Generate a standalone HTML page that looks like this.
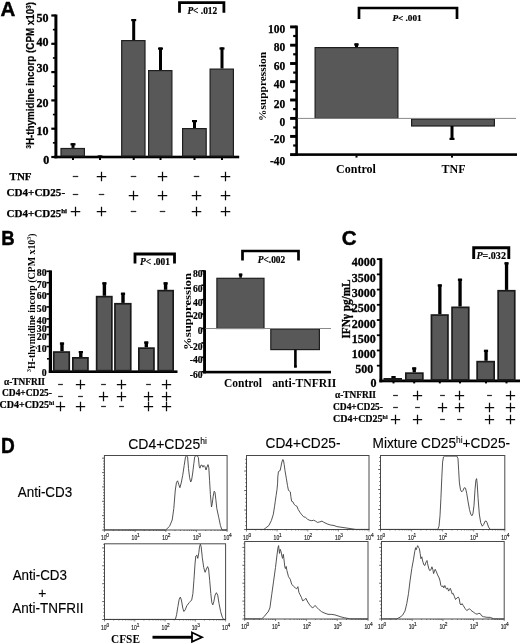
<!DOCTYPE html>
<html><head><meta charset="utf-8"><title>Figure</title>
<style>
html,body{margin:0;padding:0;background:#fff;}
body{width:520px;height:643px;overflow:hidden;font-family:"Liberation Sans",sans-serif;}
svg{display:block;filter:blur(0.35px);}
</style></head><body>
<svg width="520" height="643" viewBox="0 0 520 643">
<rect width="520" height="643" fill="#fff"/>
<text x="0.6" y="16.0" font-family='"Liberation Sans", sans-serif' font-size="20.5" font-weight="bold" font-style="normal" text-anchor="start" fill="#000" stroke="#000" stroke-width="0.45">A</text>
<text x="1.2" y="244.9" font-family='"Liberation Sans", sans-serif' font-size="20.5" font-weight="bold" font-style="normal" text-anchor="start" fill="#000" textLength="13.4" lengthAdjust="spacingAndGlyphs" stroke="#000" stroke-width="0.45">B</text>
<text x="341.7" y="245" font-family='"Liberation Sans", sans-serif' font-size="20.5" font-weight="bold" font-style="normal" text-anchor="start" fill="#000" stroke="#000" stroke-width="0.45">C</text>
<text x="1.0" y="452.6" font-family='"Liberation Sans", sans-serif' font-size="22" font-weight="bold" font-style="normal" text-anchor="start" fill="#000" textLength="13.8" lengthAdjust="spacingAndGlyphs" stroke="#000" stroke-width="0.45">D</text>
<rect x="54.4" y="14.5" width="3.0" height="143.8" fill="#000"/>
<rect x="54.4" y="155.7" width="184.79999999999998" height="2.6" fill="#000"/>
<rect x="51.3" y="155.9" width="4.6" height="2.2" fill="#000"/>
<rect x="52.9" y="142.04999999999998" width="3" height="1.6" fill="#000"/>
<text x="49.3" y="164.2" font-family='"Liberation Serif", serif' font-size="12" font-weight="bold" font-style="normal" text-anchor="end" fill="#000" stroke="#000" stroke-width="0.35">0</text>
<rect x="51.3" y="127.6" width="4.6" height="2.2" fill="#000"/>
<rect x="52.9" y="113.74999999999999" width="3" height="1.6" fill="#000"/>
<text x="48.4" y="135.4" font-family='"Liberation Serif", serif' font-size="12" font-weight="bold" font-style="normal" text-anchor="end" fill="#000" stroke="#000" stroke-width="0.35">10</text>
<rect x="51.3" y="99.30000000000001" width="4.6" height="2.2" fill="#000"/>
<rect x="52.9" y="85.45" width="3" height="1.6" fill="#000"/>
<text x="48.4" y="107" font-family='"Liberation Serif", serif' font-size="12" font-weight="bold" font-style="normal" text-anchor="end" fill="#000" stroke="#000" stroke-width="0.35">20</text>
<rect x="51.3" y="71.0" width="4.6" height="2.2" fill="#000"/>
<rect x="52.9" y="57.15" width="3" height="1.6" fill="#000"/>
<text x="48.4" y="71.6" font-family='"Liberation Serif", serif' font-size="12" font-weight="bold" font-style="normal" text-anchor="end" fill="#000" stroke="#000" stroke-width="0.35">30</text>
<rect x="51.3" y="42.699999999999996" width="4.6" height="2.2" fill="#000"/>
<rect x="52.9" y="28.849999999999998" width="3" height="1.6" fill="#000"/>
<text x="48.4" y="46" font-family='"Liberation Serif", serif' font-size="12" font-weight="bold" font-style="normal" text-anchor="end" fill="#000" stroke="#000" stroke-width="0.35">40</text>
<rect x="51.3" y="14.4" width="4.6" height="2.2" fill="#000"/>
<text x="48.4" y="21.5" font-family='"Liberation Serif", serif' font-size="12" font-weight="bold" font-style="normal" text-anchor="end" fill="#000" stroke="#000" stroke-width="0.35">50</text>
<text x="34.5" y="75.3" font-family='"Liberation Sans", sans-serif' font-size="10.4" font-weight="bold" font-style="normal" text-anchor="middle" fill="#000" textLength="146.5" lengthAdjust="spacingAndGlyphs" transform="rotate(-90 34.5 75.3)" stroke="#000" stroke-width="0.2"><tspan font-size="6.5" dy="-3">3</tspan><tspan dy="3">H-thymidine incorp (CPM x10</tspan><tspan font-size="6.5" dy="-3.5">3</tspan><tspan dy="3.5">)</tspan></text>
<rect x="61.00" y="148.50" width="23.40" height="7.50" fill="#585858" stroke="#1e1e1e" stroke-width="1.2"/>
<rect x="71.5" y="143.2" width="3.0" height="4.7" fill="#000"/>
<rect x="70.5" y="143.2" width="5" height="2.2" fill="#000"/>
<rect x="72" y="158.0" width="2" height="2" fill="#000"/>
<rect x="98.5" y="155.5" width="3.0" height="1.0" fill="#000"/>
<rect x="97.5" y="155.5" width="5" height="2.2" fill="#000"/>
<rect x="99" y="158.0" width="2" height="2" fill="#000"/>
<rect x="121.70" y="40.60" width="23.30" height="115.40" fill="#585858" stroke="#1e1e1e" stroke-width="1.2"/>
<rect x="132.2" y="19.0" width="3.0" height="21.0" fill="#000"/>
<rect x="131.2" y="19.0" width="5" height="2.2" fill="#000"/>
<rect x="132.7" y="158.0" width="2" height="2" fill="#000"/>
<rect x="148.60" y="70.60" width="23.30" height="85.40" fill="#585858" stroke="#1e1e1e" stroke-width="1.2"/>
<rect x="159.0" y="47.5" width="3.0" height="22.5" fill="#000"/>
<rect x="158.0" y="47.5" width="5" height="2.2" fill="#000"/>
<rect x="159.5" y="158.0" width="2" height="2" fill="#000"/>
<rect x="182.60" y="128.60" width="23.60" height="27.40" fill="#585858" stroke="#1e1e1e" stroke-width="1.2"/>
<rect x="193.0" y="120.0" width="3.0" height="8.0" fill="#000"/>
<rect x="192.0" y="120.0" width="5" height="2.2" fill="#000"/>
<rect x="193.5" y="158.0" width="2" height="2" fill="#000"/>
<rect x="210.10" y="69.10" width="23.30" height="86.90" fill="#585858" stroke="#1e1e1e" stroke-width="1.2"/>
<rect x="220.5" y="47.4" width="3.0" height="21.1" fill="#000"/>
<rect x="219.5" y="47.4" width="5" height="2.2" fill="#000"/>
<rect x="221" y="158.0" width="2" height="2" fill="#000"/>
<path d="M179.5 12.8V2.7H223.9V12.8" stroke="#000" stroke-width="2.8" fill="none" stroke-linejoin="miter"/>
<text x="202.3" y="13.8" font-family='"Liberation Serif", serif' font-size="9.4" font-weight="bold" font-style="normal" text-anchor="middle" fill="#000" stroke="#000" stroke-width="0.2"><tspan font-style="italic">P</tspan>&lt; .012</text>
<text x="9.6" y="180" font-family='"Liberation Serif", serif' font-size="11" font-weight="bold" font-style="normal" text-anchor="start" fill="#000" stroke="#000" stroke-width="0.25">TNF</text>
<text x="6.6" y="195.7" font-family='"Liberation Serif", serif' font-size="11" font-weight="bold" font-style="normal" text-anchor="start" fill="#000" textLength="58.5" lengthAdjust="spacingAndGlyphs" stroke="#000" stroke-width="0.25">CD4+CD25-</text>
<text x="6.6" y="216.7" font-family='"Liberation Serif", serif' font-size="11" font-weight="bold" font-style="normal" text-anchor="start" fill="#000" stroke="#000" stroke-width="0.25">CD4+CD25<tspan font-size="7" dy="-3.3">hi</tspan></text>
<path d="M72.75 176.5H78.25" stroke="#2a2a2a" stroke-width="1.25" fill="none"/>
<path d="M96.75 176.5H106.25M101.5 171.75V181.25" stroke="#0a0a0a" stroke-width="1.25" fill="none"/>
<path d="M130.75 176.5H136.25" stroke="#2a2a2a" stroke-width="1.25" fill="none"/>
<path d="M157.75 176.5H167.25M162.5 171.75V181.25" stroke="#0a0a0a" stroke-width="1.25" fill="none"/>
<path d="M193.75 176.5H199.25" stroke="#2a2a2a" stroke-width="1.25" fill="none"/>
<path d="M220.75 176.5H230.25M225.5 171.75V181.25" stroke="#0a0a0a" stroke-width="1.25" fill="none"/>
<path d="M72.75 194.5H78.25" stroke="#2a2a2a" stroke-width="1.25" fill="none"/>
<path d="M98.75 194.5H104.25" stroke="#2a2a2a" stroke-width="1.25" fill="none"/>
<path d="M128.75 195.5H138.25M133.5 190.75V200.25" stroke="#0a0a0a" stroke-width="1.25" fill="none"/>
<path d="M157.75 195.5H167.25M162.5 190.75V200.25" stroke="#0a0a0a" stroke-width="1.25" fill="none"/>
<path d="M191.75 195.5H201.25M196.5 190.75V200.25" stroke="#0a0a0a" stroke-width="1.25" fill="none"/>
<path d="M220.75 195.5H230.25M225.5 190.75V200.25" stroke="#0a0a0a" stroke-width="1.25" fill="none"/>
<path d="M70.75 211.5H80.25M75.5 206.75V216.25" stroke="#0a0a0a" stroke-width="1.25" fill="none"/>
<path d="M96.75 211.5H106.25M101.5 206.75V216.25" stroke="#0a0a0a" stroke-width="1.25" fill="none"/>
<path d="M130.75 211.5H136.25" stroke="#2a2a2a" stroke-width="1.25" fill="none"/>
<path d="M159.75 211.5H165.25" stroke="#2a2a2a" stroke-width="1.25" fill="none"/>
<path d="M191.75 211.5H201.25M196.5 206.75V216.25" stroke="#0a0a0a" stroke-width="1.25" fill="none"/>
<path d="M220.75 211.5H230.25M225.5 206.75V216.25" stroke="#0a0a0a" stroke-width="1.25" fill="none"/>
<rect x="295.3" y="25.6" width="2.6" height="130.3" fill="#000"/>
<rect x="295.3" y="153.29999999999998" width="221.7" height="2.6" fill="#000"/>
<rect x="290.1" y="153.15" width="6.5" height="2.9" fill="#000"/>
<text x="285.3" y="164.9" font-family='"Liberation Serif", serif' font-size="11.5" font-weight="bold" font-style="normal" text-anchor="end" fill="#000" stroke="#000" stroke-width="0.25">-40</text>
<rect x="290.1" y="134.95000000000002" width="6.5" height="2.9" fill="#000"/>
<rect x="293.20000000000005" y="144.4" width="3.4" height="2.2" fill="#000"/>
<text x="285.3" y="142.7" font-family='"Liberation Serif", serif' font-size="11.5" font-weight="bold" font-style="normal" text-anchor="end" fill="#000" stroke="#000" stroke-width="0.25">-20</text>
<rect x="290.1" y="116.95" width="6.5" height="2.9" fill="#000"/>
<rect x="293.20000000000005" y="126.4" width="3.4" height="2.2" fill="#000"/>
<text x="285.3" y="125.8" font-family='"Liberation Serif", serif' font-size="11.5" font-weight="bold" font-style="normal" text-anchor="end" fill="#000" stroke="#000" stroke-width="0.25">0</text>
<rect x="290.1" y="98.55" width="6.5" height="2.9" fill="#000"/>
<rect x="293.20000000000005" y="108.0" width="3.4" height="2.2" fill="#000"/>
<text x="285.3" y="107.5" font-family='"Liberation Serif", serif' font-size="11.5" font-weight="bold" font-style="normal" text-anchor="end" fill="#000" stroke="#000" stroke-width="0.25">20</text>
<rect x="290.1" y="80.25" width="6.5" height="2.9" fill="#000"/>
<rect x="293.20000000000005" y="89.7" width="3.4" height="2.2" fill="#000"/>
<text x="285.3" y="88.3" font-family='"Liberation Serif", serif' font-size="11.5" font-weight="bold" font-style="normal" text-anchor="end" fill="#000" stroke="#000" stroke-width="0.25">40</text>
<rect x="290.1" y="62.05" width="6.5" height="2.9" fill="#000"/>
<rect x="293.20000000000005" y="71.5" width="3.4" height="2.2" fill="#000"/>
<text x="285.3" y="69.6" font-family='"Liberation Serif", serif' font-size="11.5" font-weight="bold" font-style="normal" text-anchor="end" fill="#000" stroke="#000" stroke-width="0.25">60</text>
<rect x="290.1" y="43.75" width="6.5" height="2.9" fill="#000"/>
<rect x="293.20000000000005" y="53.2" width="3.4" height="2.2" fill="#000"/>
<text x="285.3" y="51.3" font-family='"Liberation Serif", serif' font-size="11.5" font-weight="bold" font-style="normal" text-anchor="end" fill="#000" stroke="#000" stroke-width="0.25">80</text>
<rect x="290.1" y="25.45" width="6.5" height="2.9" fill="#000"/>
<rect x="293.20000000000005" y="34.9" width="3.4" height="2.2" fill="#000"/>
<text x="285.3" y="33" font-family='"Liberation Serif", serif' font-size="11.5" font-weight="bold" font-style="normal" text-anchor="end" fill="#000" stroke="#000" stroke-width="0.25">100</text>
<rect x="315.10" y="47.60" width="82.80" height="70.80" fill="#585858" stroke="#1e1e1e" stroke-width="1.2"/>
<rect x="355.0" y="43.4" width="3.0" height="3.6" fill="#000"/>
<rect x="354.2" y="43.4" width="4.5" height="2.2" fill="#000"/>
<rect x="411.60" y="119.00" width="82.80" height="7.00" fill="#585858" stroke="#1e1e1e" stroke-width="1.2"/>
<rect x="297.6" y="117.9" width="218.39999999999998" height="1" fill="#8a8a8a"/>
<rect x="450.5" y="126.0" width="3.0" height="14.0" fill="#000"/>
<rect x="449.5" y="137.8" width="5" height="2.2" fill="#000"/>
<rect x="355.5" y="155.6" width="2" height="2" fill="#000"/>
<rect x="451" y="155.6" width="2" height="2" fill="#000"/>
<path d="M359 19V8H457V19" stroke="#000" stroke-width="2.7" fill="none" stroke-linejoin="miter"/>
<text x="407" y="21.2" font-family='"Liberation Serif", serif' font-size="9.2" font-weight="bold" font-style="normal" text-anchor="middle" fill="#000" stroke="#000" stroke-width="0.2"><tspan font-style="italic">P</tspan>&lt; .001</text>
<text x="356" y="173.1" font-family='"Liberation Serif", serif' font-size="12" font-weight="bold" font-style="normal" text-anchor="middle" fill="#000" >Control</text>
<text x="453.5" y="173.1" font-family='"Liberation Serif", serif' font-size="12" font-weight="bold" font-style="normal" text-anchor="middle" fill="#000" >TNF</text>
<text x="266.3" y="86.5" font-family='"Liberation Serif", serif' font-size="9.5" font-weight="bold" font-style="normal" text-anchor="middle" fill="#000" textLength="69" lengthAdjust="spacingAndGlyphs" transform="rotate(-90 266.3 86.5)" >%suppression</text>
<rect x="48.8" y="270.4" width="3.2" height="102.60000000000001" fill="#000"/>
<rect x="48.8" y="370.4" width="128.7" height="2.6" fill="#000"/>
<rect x="46.4" y="270.5" width="4" height="1.6" fill="#000"/>
<text x="46.6" y="276.29999999999995" font-family='"Liberation Serif", serif' font-size="9.8" font-weight="bold" font-style="normal" text-anchor="end" fill="#000" stroke="#000" stroke-width="0.2">80</text>
<rect x="46.4" y="281.90000000000003" width="4" height="1.6" fill="#000"/>
<text x="46.6" y="287.7" font-family='"Liberation Serif", serif' font-size="9.8" font-weight="bold" font-style="normal" text-anchor="end" fill="#000" stroke="#000" stroke-width="0.2">70</text>
<rect x="46.4" y="293.20000000000005" width="4" height="1.6" fill="#000"/>
<text x="46.6" y="299.0" font-family='"Liberation Serif", serif' font-size="9.8" font-weight="bold" font-style="normal" text-anchor="end" fill="#000" stroke="#000" stroke-width="0.2">60</text>
<rect x="46.4" y="306.1" width="4" height="1.6" fill="#000"/>
<text x="46.6" y="311.9" font-family='"Liberation Serif", serif' font-size="9.8" font-weight="bold" font-style="normal" text-anchor="end" fill="#000" stroke="#000" stroke-width="0.2">50</text>
<rect x="46.4" y="318.1" width="4" height="1.6" fill="#000"/>
<text x="46.6" y="323.9" font-family='"Liberation Serif", serif' font-size="9.8" font-weight="bold" font-style="normal" text-anchor="end" fill="#000" stroke="#000" stroke-width="0.2">40</text>
<rect x="46.4" y="326.1" width="4" height="1.6" fill="#000"/>
<text x="46.6" y="331.9" font-family='"Liberation Serif", serif' font-size="9.8" font-weight="bold" font-style="normal" text-anchor="end" fill="#000" stroke="#000" stroke-width="0.2">30</text>
<rect x="46.4" y="333.70000000000005" width="4" height="1.6" fill="#000"/>
<text x="46.6" y="339.5" font-family='"Liberation Serif", serif' font-size="9.8" font-weight="bold" font-style="normal" text-anchor="end" fill="#000" stroke="#000" stroke-width="0.2">20</text>
<rect x="46.4" y="345.70000000000005" width="4" height="1.6" fill="#000"/>
<text x="46.6" y="351.5" font-family='"Liberation Serif", serif' font-size="9.8" font-weight="bold" font-style="normal" text-anchor="end" fill="#000" stroke="#000" stroke-width="0.2">10</text>
<text x="46.6" y="376.29999999999995" font-family='"Liberation Serif", serif' font-size="9.8" font-weight="bold" font-style="normal" text-anchor="end" fill="#000" stroke="#000" stroke-width="0.2">0</text>
<rect x="47.0" y="358" width="3.4" height="1.6" fill="#000"/>
<text x="34.5" y="302.75" font-family='"Liberation Serif", serif' font-size="11" font-weight="bold" font-style="normal" text-anchor="middle" fill="#000" textLength="138.5" lengthAdjust="spacingAndGlyphs" transform="rotate(-90 34.5 302.75)" ><tspan font-size="6.5" dy="-3.5">3</tspan><tspan dy="3.5">H-thymidine incorp (CPM x10</tspan><tspan font-size="6.5" dy="-3.5">3</tspan><tspan dy="3.5">)</tspan></text>
<rect x="53.75" y="352.05" width="15.50" height="18.65" fill="#585858" stroke="#1a1a1a" stroke-width="1.7"/>
<rect x="60.3" y="342.5" width="3.4" height="8.7" fill="#000"/>
<rect x="59.9" y="342.5" width="4.2" height="2.2" fill="#000"/>
<rect x="72.85" y="357.85" width="15.10" height="12.85" fill="#585858" stroke="#1a1a1a" stroke-width="1.7"/>
<rect x="79.1" y="351.0" width="3.4" height="6.0" fill="#000"/>
<rect x="78.7" y="351.0" width="4.2" height="2.2" fill="#000"/>
<rect x="96.65" y="296.65" width="15.20" height="74.05" fill="#585858" stroke="#1a1a1a" stroke-width="1.7"/>
<rect x="102.7" y="282.3" width="3.4" height="13.5" fill="#000"/>
<rect x="102.3" y="282.3" width="4.2" height="2.2" fill="#000"/>
<rect x="114.95" y="303.75" width="15.80" height="66.95" fill="#585858" stroke="#1a1a1a" stroke-width="1.7"/>
<rect x="121.3" y="292.7" width="3.4" height="10.2" fill="#000"/>
<rect x="120.9" y="292.7" width="4.2" height="2.2" fill="#000"/>
<rect x="138.85" y="348.15" width="15.10" height="22.55" fill="#585858" stroke="#1a1a1a" stroke-width="1.7"/>
<rect x="144.6" y="341.5" width="3.4" height="5.8" fill="#000"/>
<rect x="144.2" y="341.5" width="4.2" height="2.2" fill="#000"/>
<rect x="158.15" y="290.65" width="15.00" height="80.05" fill="#585858" stroke="#1a1a1a" stroke-width="1.7"/>
<rect x="163.9" y="282.3" width="3.4" height="7.5" fill="#000"/>
<rect x="163.5" y="282.3" width="4.2" height="2.2" fill="#000"/>
<path d="M135 263.5V254H174.5V263.5" stroke="#000" stroke-width="2.8" fill="none" stroke-linejoin="miter"/>
<text x="155" y="264.8" font-family='"Liberation Serif", serif' font-size="9.4" font-weight="bold" font-style="normal" text-anchor="middle" fill="#000" stroke="#000" stroke-width="0.2"><tspan font-style="italic">P</tspan>&lt; .001</text>
<text x="4" y="384.8" font-family='"Liberation Serif", serif' font-size="10" font-weight="bold" font-style="normal" text-anchor="start" fill="#000" textLength="41" lengthAdjust="spacingAndGlyphs" stroke="#000" stroke-width="0.2">&#945;-TNFRII</text>
<text x="2" y="396" font-family='"Liberation Serif", serif' font-size="10" font-weight="bold" font-style="normal" text-anchor="start" fill="#000" textLength="50" lengthAdjust="spacingAndGlyphs" stroke="#000" stroke-width="0.2">CD4+CD25-</text>
<text x="-0.5" y="407.5" font-family='"Liberation Serif", serif' font-size="10" font-weight="bold" font-style="normal" text-anchor="start" fill="#000" stroke="#000" stroke-width="0.2">CD4+CD25<tspan font-size="6" dy="-3">hi</tspan></text>
<path d="M58.10 384.5H62.90" stroke="#2a2a2a" stroke-width="1.25" fill="none"/>
<path d="M75.85 384.5H85.15M80.5 379.85V389.15" stroke="#0a0a0a" stroke-width="1.25" fill="none"/>
<path d="M101.10 384.5H105.90" stroke="#2a2a2a" stroke-width="1.25" fill="none"/>
<path d="M116.85 384.5H126.15M121.5 379.85V389.15" stroke="#0a0a0a" stroke-width="1.25" fill="none"/>
<path d="M146.10 384.5H150.90" stroke="#2a2a2a" stroke-width="1.25" fill="none"/>
<path d="M161.85 384.5H171.15M166.5 379.85V389.15" stroke="#0a0a0a" stroke-width="1.25" fill="none"/>
<path d="M58.10 396.5H62.90" stroke="#2a2a2a" stroke-width="1.25" fill="none"/>
<path d="M78.10 396.5H82.90" stroke="#2a2a2a" stroke-width="1.25" fill="none"/>
<path d="M98.85 396.5H108.15M103.5 391.85V401.15" stroke="#0a0a0a" stroke-width="1.25" fill="none"/>
<path d="M116.85 396.5H126.15M121.5 391.85V401.15" stroke="#0a0a0a" stroke-width="1.25" fill="none"/>
<path d="M143.85 396.5H153.15M148.5 391.85V401.15" stroke="#0a0a0a" stroke-width="1.25" fill="none"/>
<path d="M161.85 396.5H171.15M166.5 391.85V401.15" stroke="#0a0a0a" stroke-width="1.25" fill="none"/>
<path d="M55.85 406.5H65.15M60.5 401.85V411.15" stroke="#0a0a0a" stroke-width="1.25" fill="none"/>
<path d="M75.85 406.5H85.15M80.5 401.85V411.15" stroke="#0a0a0a" stroke-width="1.25" fill="none"/>
<path d="M101.10 406.5H105.90" stroke="#2a2a2a" stroke-width="1.25" fill="none"/>
<path d="M119.10 406.5H123.90" stroke="#2a2a2a" stroke-width="1.25" fill="none"/>
<path d="M143.85 406.5H153.15M148.5 401.85V411.15" stroke="#0a0a0a" stroke-width="1.25" fill="none"/>
<path d="M161.85 406.5H171.15M166.5 401.85V411.15" stroke="#0a0a0a" stroke-width="1.25" fill="none"/>
<rect x="203.10000000000002" y="270.3" width="2.9" height="103.10000000000001" fill="#000"/>
<rect x="203.10000000000002" y="370.8" width="127.89999999999999" height="2.6" fill="#000"/>
<rect x="201.35000000000002" y="370.96" width="3.2" height="1.6" fill="#000"/>
<text x="202.6" y="377.6" font-family='"Liberation Serif", serif' font-size="9.6" font-weight="bold" font-style="normal" text-anchor="end" fill="#000" stroke="#000" stroke-width="0.2">-60</text>
<rect x="201.35000000000002" y="356.53999999999996" width="3.2" height="1.6" fill="#000"/>
<text x="202.6" y="363.2" font-family='"Liberation Serif", serif' font-size="9.6" font-weight="bold" font-style="normal" text-anchor="end" fill="#000" stroke="#000" stroke-width="0.2">-40</text>
<rect x="201.35000000000002" y="342.12" width="3.2" height="1.6" fill="#000"/>
<text x="202.6" y="350" font-family='"Liberation Serif", serif' font-size="9.6" font-weight="bold" font-style="normal" text-anchor="end" fill="#000" stroke="#000" stroke-width="0.2">-20</text>
<rect x="201.35000000000002" y="327.7" width="3.2" height="1.6" fill="#000"/>
<text x="202.6" y="334.3" font-family='"Liberation Serif", serif' font-size="9.6" font-weight="bold" font-style="normal" text-anchor="end" fill="#000" stroke="#000" stroke-width="0.2">0</text>
<rect x="201.35000000000002" y="313.28" width="3.2" height="1.6" fill="#000"/>
<text x="202.6" y="319.4" font-family='"Liberation Serif", serif' font-size="9.6" font-weight="bold" font-style="normal" text-anchor="end" fill="#000" stroke="#000" stroke-width="0.2">20</text>
<rect x="201.35000000000002" y="298.86" width="3.2" height="1.6" fill="#000"/>
<text x="202.6" y="305.8" font-family='"Liberation Serif", serif' font-size="9.6" font-weight="bold" font-style="normal" text-anchor="end" fill="#000" stroke="#000" stroke-width="0.2">40</text>
<rect x="201.35000000000002" y="284.44" width="3.2" height="1.6" fill="#000"/>
<text x="202.6" y="292.1" font-family='"Liberation Serif", serif' font-size="9.6" font-weight="bold" font-style="normal" text-anchor="end" fill="#000" stroke="#000" stroke-width="0.2">60</text>
<rect x="201.35000000000002" y="270.02" width="3.2" height="1.6" fill="#000"/>
<text x="202.6" y="276.9" font-family='"Liberation Serif", serif' font-size="9.6" font-weight="bold" font-style="normal" text-anchor="end" fill="#000" stroke="#000" stroke-width="0.2">80</text>
<rect x="216.90" y="278.30" width="47.10" height="50.20" fill="#585858" stroke="#1e1e1e" stroke-width="1.2"/>
<rect x="239.3" y="273.6" width="2.6" height="4.1" fill="#000"/>
<rect x="238.8" y="273.6" width="3.6" height="2.2" fill="#000"/>
<rect x="270.80" y="329.10" width="48.60" height="20.50" fill="#585858" stroke="#1e1e1e" stroke-width="1.2"/>
<rect x="205.55" y="328.0" width="125.44999999999999" height="1" fill="#8a8a8a"/>
<rect x="294.1" y="349.6" width="2.6" height="17.9" fill="#000"/>
<rect x="294.1" y="365.3" width="2.6" height="2.2" fill="#000"/>
<path d="M242.5 260.5V251H298.5V260.5" stroke="#000" stroke-width="2.7" fill="none" stroke-linejoin="miter"/>
<text x="271.5" y="262.7" font-family='"Liberation Serif", serif' font-size="9.4" font-weight="bold" font-style="normal" text-anchor="middle" fill="#000" stroke="#000" stroke-width="0.2"><tspan font-style="italic">P</tspan>&lt;.002</text>
<text x="243.0" y="387" font-family='"Liberation Serif", serif' font-size="11.5" font-weight="bold" font-style="normal" text-anchor="middle" fill="#000" >Control</text>
<text x="304.3" y="387" font-family='"Liberation Serif", serif' font-size="11.5" font-weight="bold" font-style="normal" text-anchor="middle" fill="#000" textLength="64" lengthAdjust="spacingAndGlyphs" >anti-TNFRII</text>
<text x="190.8" y="311.5" font-family='"Liberation Serif", serif' font-size="10.6" font-weight="bold" font-style="normal" text-anchor="middle" fill="#000" textLength="77" lengthAdjust="spacingAndGlyphs" transform="rotate(-90 190.8 311.5)" >%suppression</text>
<rect x="379.40000000000003" y="258.2" width="2.9" height="124.1" fill="#000"/>
<rect x="379.40000000000003" y="379.5" width="140.59999999999997" height="2.8" fill="#000"/>
<text x="376.6" y="387" font-family='"Liberation Serif", serif' font-size="12" font-weight="bold" font-style="normal" text-anchor="end" fill="#000" stroke="#000" stroke-width="0.3">0</text>
<rect x="376.85" y="364.78" width="4" height="1.8" fill="#000"/>
<text x="373.3" y="372.6" font-family='"Liberation Serif", serif' font-size="12" font-weight="bold" font-style="normal" text-anchor="end" fill="#000" stroke="#000" stroke-width="0.3">500</text>
<rect x="376.85" y="349.56" width="4" height="1.8" fill="#000"/>
<text x="375.7" y="357.6" font-family='"Liberation Serif", serif' font-size="12" font-weight="bold" font-style="normal" text-anchor="end" fill="#000" stroke="#000" stroke-width="0.3">1000</text>
<rect x="376.85" y="334.34" width="4" height="1.8" fill="#000"/>
<text x="375.7" y="342.6" font-family='"Liberation Serif", serif' font-size="12" font-weight="bold" font-style="normal" text-anchor="end" fill="#000" stroke="#000" stroke-width="0.3">1500</text>
<rect x="376.85" y="319.12" width="4" height="1.8" fill="#000"/>
<text x="375.7" y="327.7" font-family='"Liberation Serif", serif' font-size="12" font-weight="bold" font-style="normal" text-anchor="end" fill="#000" stroke="#000" stroke-width="0.3">2000</text>
<rect x="376.85" y="303.9" width="4" height="1.8" fill="#000"/>
<text x="375.7" y="312.2" font-family='"Liberation Serif", serif' font-size="12" font-weight="bold" font-style="normal" text-anchor="end" fill="#000" stroke="#000" stroke-width="0.3">2500</text>
<rect x="376.85" y="288.68" width="4" height="1.8" fill="#000"/>
<text x="375.7" y="296.7" font-family='"Liberation Serif", serif' font-size="12" font-weight="bold" font-style="normal" text-anchor="end" fill="#000" stroke="#000" stroke-width="0.3">3000</text>
<rect x="376.85" y="273.46" width="4" height="1.8" fill="#000"/>
<text x="375.7" y="281.7" font-family='"Liberation Serif", serif' font-size="12" font-weight="bold" font-style="normal" text-anchor="end" fill="#000" stroke="#000" stroke-width="0.3">3500</text>
<rect x="376.85" y="258.24" width="4" height="1.8" fill="#000"/>
<text x="375.7" y="266.2" font-family='"Liberation Serif", serif' font-size="12" font-weight="bold" font-style="normal" text-anchor="end" fill="#000" stroke="#000" stroke-width="0.3">4000</text>
<text x="350" y="309" font-family='"Liberation Serif", serif' font-size="12" font-weight="bold" font-style="normal" text-anchor="middle" fill="#000" textLength="59" lengthAdjust="spacingAndGlyphs" transform="rotate(-90 350 309)" stroke="#000" stroke-width="0.3">IFN&#947; pg/mL</text>
<rect x="384.35" y="378.85" width="16.80" height="1.05" fill="#585858" stroke="#1a1a1a" stroke-width="1.7"/>
<rect x="391.9" y="376.0" width="3.3" height="2.0" fill="#000"/>
<rect x="391.4" y="376.0" width="4.2" height="2.2" fill="#000"/>
<rect x="392.5" y="381.9" width="2" height="1.5" fill="#000"/>
<rect x="405.85" y="373.15" width="17.00" height="6.75" fill="#585858" stroke="#1a1a1a" stroke-width="1.7"/>
<rect x="412.6" y="367.4" width="3.3" height="4.9" fill="#000"/>
<rect x="412.1" y="367.4" width="4.2" height="2.2" fill="#000"/>
<rect x="413.2" y="381.9" width="2" height="1.5" fill="#000"/>
<rect x="431.45" y="315.05" width="16.50" height="64.85" fill="#585858" stroke="#1a1a1a" stroke-width="1.7"/>
<rect x="438.2" y="284.4" width="3.3" height="29.8" fill="#000"/>
<rect x="437.7" y="284.4" width="4.2" height="2.2" fill="#000"/>
<rect x="438.8" y="381.9" width="2" height="1.5" fill="#000"/>
<rect x="452.05" y="307.35" width="16.70" height="72.55" fill="#585858" stroke="#1a1a1a" stroke-width="1.7"/>
<rect x="458.4" y="278.7" width="3.3" height="27.8" fill="#000"/>
<rect x="457.9" y="278.7" width="4.2" height="2.2" fill="#000"/>
<rect x="459" y="381.9" width="2" height="1.5" fill="#000"/>
<rect x="477.15" y="361.65" width="17.00" height="18.25" fill="#585858" stroke="#1a1a1a" stroke-width="1.7"/>
<rect x="484.4" y="349.8" width="3.3" height="11.0" fill="#000"/>
<rect x="483.9" y="349.8" width="4.2" height="2.2" fill="#000"/>
<rect x="485" y="381.9" width="2" height="1.5" fill="#000"/>
<rect x="498.15" y="290.75" width="16.60" height="89.15" fill="#585858" stroke="#1a1a1a" stroke-width="1.7"/>
<rect x="504.9" y="262.3" width="3.3" height="27.6" fill="#000"/>
<rect x="504.4" y="262.3" width="4.2" height="2.2" fill="#000"/>
<rect x="505.5" y="381.9" width="2" height="1.5" fill="#000"/>
<path d="M473.7 259V247.7H508.8V259" stroke="#000" stroke-width="2.9" fill="none" stroke-linejoin="miter"/>
<text x="491.2" y="258.6" font-family='"Liberation Serif", serif' font-size="9.6" font-weight="bold" font-style="normal" text-anchor="middle" fill="#000" textLength="29.5" lengthAdjust="spacingAndGlyphs" stroke="#000" stroke-width="0.15"><tspan font-style="italic">P</tspan>=.032</text>
<text x="335" y="398" font-family='"Liberation Serif", serif' font-size="10" font-weight="bold" font-style="normal" text-anchor="start" fill="#000" textLength="41" lengthAdjust="spacingAndGlyphs" stroke="#000" stroke-width="0.2">&#945;-TNFRII</text>
<text x="333" y="410" font-family='"Liberation Serif", serif' font-size="10" font-weight="bold" font-style="normal" text-anchor="start" fill="#000" textLength="50" lengthAdjust="spacingAndGlyphs" stroke="#000" stroke-width="0.2">CD4+CD25-</text>
<text x="333" y="421.5" font-family='"Liberation Serif", serif' font-size="10" font-weight="bold" font-style="normal" text-anchor="start" fill="#000" stroke="#000" stroke-width="0.2">CD4+CD25<tspan font-size="6" dy="-3">hi</tspan></text>
<path d="M393.10 395.5H397.90" stroke="#2a2a2a" stroke-width="1.25" fill="none"/>
<path d="M412.85 395.5H422.15M417.5 390.85V400.15" stroke="#0a0a0a" stroke-width="1.25" fill="none"/>
<path d="M440.10 395.5H444.90" stroke="#2a2a2a" stroke-width="1.25" fill="none"/>
<path d="M454.85 395.5H464.15M459.5 390.85V400.15" stroke="#0a0a0a" stroke-width="1.25" fill="none"/>
<path d="M487.10 395.5H491.90" stroke="#2a2a2a" stroke-width="1.25" fill="none"/>
<path d="M505.85 395.5H515.15M510.5 390.85V400.15" stroke="#0a0a0a" stroke-width="1.25" fill="none"/>
<path d="M393.10 407.5H397.90" stroke="#2a2a2a" stroke-width="1.25" fill="none"/>
<path d="M415.10 407.5H419.90" stroke="#2a2a2a" stroke-width="1.25" fill="none"/>
<path d="M437.85 407.5H447.15M442.5 402.85V412.15" stroke="#0a0a0a" stroke-width="1.25" fill="none"/>
<path d="M454.85 407.5H464.15M459.5 402.85V412.15" stroke="#0a0a0a" stroke-width="1.25" fill="none"/>
<path d="M484.85 407.5H494.15M489.5 402.85V412.15" stroke="#0a0a0a" stroke-width="1.25" fill="none"/>
<path d="M505.85 407.5H515.15M510.5 402.85V412.15" stroke="#0a0a0a" stroke-width="1.25" fill="none"/>
<path d="M390.85 419.5H400.15M395.5 414.85V424.15" stroke="#0a0a0a" stroke-width="1.25" fill="none"/>
<path d="M412.85 419.5H422.15M417.5 414.85V424.15" stroke="#0a0a0a" stroke-width="1.25" fill="none"/>
<path d="M440.10 419.5H444.90" stroke="#2a2a2a" stroke-width="1.25" fill="none"/>
<path d="M457.10 419.5H461.90" stroke="#2a2a2a" stroke-width="1.25" fill="none"/>
<path d="M484.85 419.5H494.15M489.5 414.85V424.15" stroke="#0a0a0a" stroke-width="1.25" fill="none"/>
<path d="M505.85 419.5H515.15M510.5 414.85V424.15" stroke="#0a0a0a" stroke-width="1.25" fill="none"/>
<text x="167.5" y="448.8" font-family='"Liberation Sans", sans-serif' font-size="14" font-weight="normal" font-style="normal" text-anchor="middle" fill="#000" stroke="#111" stroke-width="0.12">CD4+CD25<tspan font-size="8.5" dy="-5.2">hi</tspan></text>
<text x="303" y="448.1" font-family='"Liberation Sans", sans-serif' font-size="13.8" font-weight="normal" font-style="normal" text-anchor="middle" fill="#000" textLength="75" lengthAdjust="spacingAndGlyphs" stroke="#111" stroke-width="0.12">CD4+CD25-</text>
<text x="441.3" y="447.7" font-family='"Liberation Sans", sans-serif' font-size="13.8" font-weight="normal" font-style="normal" text-anchor="middle" fill="#000" textLength="137.5" lengthAdjust="spacingAndGlyphs" stroke="#111" stroke-width="0.12">Mixture CD25<tspan font-size="8.5" dy="-5.2">hi</tspan><tspan dy="5.2">+CD25-</tspan></text>
<text x="45" y="497.3" font-family='"Liberation Sans", sans-serif' font-size="13.9" font-weight="normal" font-style="normal" text-anchor="middle" fill="#000" textLength="54.5" lengthAdjust="spacingAndGlyphs" stroke="#111" stroke-width="0.15">Anti-CD3</text>
<text x="39.8" y="580.2" font-family='"Liberation Sans", sans-serif' font-size="13.8" font-weight="normal" font-style="normal" text-anchor="middle" fill="#000" textLength="54.3" lengthAdjust="spacingAndGlyphs" stroke="#111" stroke-width="0.15">Anti-CD3</text>
<text x="42.3" y="598" font-family='"Liberation Sans", sans-serif' font-size="13.8" font-weight="normal" font-style="normal" text-anchor="middle" fill="#000" stroke="#111" stroke-width="0.15">+</text>
<text x="47.8" y="613" font-family='"Liberation Sans", sans-serif' font-size="13.8" font-weight="normal" font-style="normal" text-anchor="middle" fill="#000" textLength="71.3" lengthAdjust="spacingAndGlyphs" stroke="#111" stroke-width="0.15">Anti-TNFRII</text>
<rect x="104.4" y="455.5" width="122.7" height="74.5" fill="none" stroke="#4a4a4a" stroke-width="1"/>
<path d="M102.1 530.0H104.4M103.2 527.1H104.4M103.2 524.3H104.4M103.2 521.4H104.4M103.2 518.5H104.4M102.1 515.6H104.4M103.2 512.8H104.4M103.2 509.9H104.4M103.2 507.0H104.4M103.2 504.2H104.4M102.1 501.3H104.4M103.2 498.4H104.4M103.2 495.6H104.4M103.2 492.7H104.4M103.2 489.8H104.4M102.1 486.9H104.4M103.2 484.1H104.4M103.2 481.2H104.4M103.2 478.3H104.4M103.2 475.5H104.4M102.1 472.6H104.4M103.2 469.7H104.4M103.2 466.9H104.4M103.2 464.0H104.4M103.2 461.1H104.4M102.1 458.2H104.4" stroke="#3a3a3a" stroke-width="0.8" fill="none"/>
<path d="M104.4 530.0V532.0M113.6 530.0V531.0M119.0 530.0V531.0M122.9 530.0V531.0M125.8 530.0V531.0M128.3 530.0V531.0M130.3 530.0V531.0M132.1 530.0V531.0M133.7 530.0V531.0M135.1 530.0V532.0M144.3 530.0V531.0M149.7 530.0V531.0M153.5 530.0V531.0M156.5 530.0V531.0M158.9 530.0V531.0M161.0 530.0V531.0M162.8 530.0V531.0M164.3 530.0V531.0M165.8 530.0V532.0M175.0 530.0V531.0M180.4 530.0V531.0M184.2 530.0V531.0M187.2 530.0V531.0M189.6 530.0V531.0M191.7 530.0V531.0M193.5 530.0V531.0M195.0 530.0V531.0M196.4 530.0V532.0M205.7 530.0V531.0M211.1 530.0V531.0M214.9 530.0V531.0M217.9 530.0V531.0M220.3 530.0V531.0M222.3 530.0V531.0M224.1 530.0V531.0M225.7 530.0V531.0M227.1 530.0V532.0" stroke="#3a3a3a" stroke-width="0.6" fill="none"/>
<text x="100.9" y="540.4" font-family='"Liberation Sans", sans-serif' font-size="7.6" fill="#1c1c1c" stroke="#1c1c1c" stroke-width="0.2" textLength="5.6" lengthAdjust="spacingAndGlyphs">10</text>
<text x="106.3" y="537.2" font-family='"Liberation Sans", sans-serif' font-size="4.8" fill="#222" stroke="#222" stroke-width="0.15">0</text>
<text x="131.6" y="540.4" font-family='"Liberation Sans", sans-serif' font-size="7.6" fill="#1c1c1c" stroke="#1c1c1c" stroke-width="0.2" textLength="5.6" lengthAdjust="spacingAndGlyphs">10</text>
<text x="137.0" y="537.2" font-family='"Liberation Sans", sans-serif' font-size="4.8" fill="#222" stroke="#222" stroke-width="0.15">1</text>
<text x="162.2" y="540.4" font-family='"Liberation Sans", sans-serif' font-size="7.6" fill="#1c1c1c" stroke="#1c1c1c" stroke-width="0.2" textLength="5.6" lengthAdjust="spacingAndGlyphs">10</text>
<text x="167.7" y="537.2" font-family='"Liberation Sans", sans-serif' font-size="4.8" fill="#222" stroke="#222" stroke-width="0.15">2</text>
<text x="192.9" y="540.4" font-family='"Liberation Sans", sans-serif' font-size="7.6" fill="#1c1c1c" stroke="#1c1c1c" stroke-width="0.2" textLength="5.6" lengthAdjust="spacingAndGlyphs">10</text>
<text x="198.3" y="537.2" font-family='"Liberation Sans", sans-serif' font-size="4.8" fill="#222" stroke="#222" stroke-width="0.15">3</text>
<text x="223.6" y="540.4" font-family='"Liberation Sans", sans-serif' font-size="7.6" fill="#1c1c1c" stroke="#1c1c1c" stroke-width="0.2" textLength="5.6" lengthAdjust="spacingAndGlyphs">10</text>
<text x="229.0" y="537.2" font-family='"Liberation Sans", sans-serif' font-size="4.8" fill="#222" stroke="#222" stroke-width="0.15">4</text>
<path d="M104.5 529.9L165.8 529.9L169.6 526.2L172.2 520.0L173.8 508.5L175.3 490.0L176.5 482.3L177.6 480.8L178.8 484.6L179.9 487.7L181.2 483.0L182.7 475.4L184.2 465.4L185.5 457.0L186.5 455.7L187.6 457.0L188.5 468.5L189.6 477.7L190.7 482.0L191.6 480.0L192.7 473.0L193.8 463.8L194.7 457.0L195.8 455.7L197.3 455.7L198.4 457.7L199.2 466.2L199.9 468.2L200.8 465.4L201.9 465.0L203.0 467.2L203.9 465.4L205.0 466.6L206.0 470.0L207.0 467.0L208.0 464.6L208.8 467.7L209.6 480.8L210.4 494.6L211.5 507.0L212.2 503.8L213.2 496.2L214.2 491.2L215.0 492.3L215.8 499.2L216.8 508.5L218.8 517.7L220.4 525.4L221.9 529.9L224.2 529.9L227.0 529.9" stroke="#404040" stroke-width="0.9" fill="none" stroke-linejoin="round"/>
<rect x="246.5" y="455.5" width="122.5" height="74.0" fill="none" stroke="#4a4a4a" stroke-width="1"/>
<path d="M244.2 529.5H246.5M245.3 525.6H246.5M245.3 521.7H246.5M245.3 517.8H246.5M245.3 513.9H246.5M244.2 510.0H246.5M245.3 506.1H246.5M245.3 502.2H246.5M245.3 498.3H246.5M245.3 494.4H246.5M244.2 490.5H246.5M245.3 486.6H246.5M245.3 482.7H246.5M245.3 478.8H246.5M245.3 474.9H246.5M244.2 471.0H246.5M245.3 467.1H246.5M245.3 463.2H246.5M245.3 459.3H246.5" stroke="#3a3a3a" stroke-width="0.8" fill="none"/>
<path d="M246.5 529.5V531.5M255.7 529.5V530.5M261.1 529.5V530.5M264.9 529.5V530.5M267.9 529.5V530.5M270.3 529.5V530.5M272.4 529.5V530.5M274.2 529.5V530.5M275.7 529.5V530.5M277.1 529.5V531.5M286.3 529.5V530.5M291.7 529.5V530.5M295.6 529.5V530.5M298.5 529.5V530.5M301.0 529.5V530.5M303.0 529.5V530.5M304.8 529.5V530.5M306.3 529.5V530.5M307.8 529.5V531.5M317.0 529.5V530.5M322.4 529.5V530.5M326.2 529.5V530.5M329.2 529.5V530.5M331.6 529.5V530.5M333.6 529.5V530.5M335.4 529.5V530.5M337.0 529.5V530.5M338.4 529.5V531.5M347.6 529.5V530.5M353.0 529.5V530.5M356.8 529.5V530.5M359.8 529.5V530.5M362.2 529.5V530.5M364.3 529.5V530.5M366.0 529.5V530.5M367.6 529.5V530.5M369.0 529.5V531.5" stroke="#3a3a3a" stroke-width="0.6" fill="none"/>
<text x="243.0" y="539.9" font-family='"Liberation Sans", sans-serif' font-size="7.6" fill="#1c1c1c" stroke="#1c1c1c" stroke-width="0.2" textLength="5.6" lengthAdjust="spacingAndGlyphs">10</text>
<text x="248.4" y="536.7" font-family='"Liberation Sans", sans-serif' font-size="4.8" fill="#222" stroke="#222" stroke-width="0.15">0</text>
<text x="273.6" y="539.9" font-family='"Liberation Sans", sans-serif' font-size="7.6" fill="#1c1c1c" stroke="#1c1c1c" stroke-width="0.2" textLength="5.6" lengthAdjust="spacingAndGlyphs">10</text>
<text x="279.0" y="536.7" font-family='"Liberation Sans", sans-serif' font-size="4.8" fill="#222" stroke="#222" stroke-width="0.15">1</text>
<text x="304.2" y="539.9" font-family='"Liberation Sans", sans-serif' font-size="7.6" fill="#1c1c1c" stroke="#1c1c1c" stroke-width="0.2" textLength="5.6" lengthAdjust="spacingAndGlyphs">10</text>
<text x="309.6" y="536.7" font-family='"Liberation Sans", sans-serif' font-size="4.8" fill="#222" stroke="#222" stroke-width="0.15">2</text>
<text x="334.9" y="539.9" font-family='"Liberation Sans", sans-serif' font-size="7.6" fill="#1c1c1c" stroke="#1c1c1c" stroke-width="0.2" textLength="5.6" lengthAdjust="spacingAndGlyphs">10</text>
<text x="340.3" y="536.7" font-family='"Liberation Sans", sans-serif' font-size="4.8" fill="#222" stroke="#222" stroke-width="0.15">3</text>
<text x="365.5" y="539.9" font-family='"Liberation Sans", sans-serif' font-size="7.6" fill="#1c1c1c" stroke="#1c1c1c" stroke-width="0.2" textLength="5.6" lengthAdjust="spacingAndGlyphs">10</text>
<text x="370.9" y="536.7" font-family='"Liberation Sans", sans-serif' font-size="4.8" fill="#222" stroke="#222" stroke-width="0.15">4</text>
<path d="M246.6 529.4L258.0 529.4L262.0 529.4L263.9 529.4L265.7 528.0L268.9 525.5L271.4 520.5L273.3 514.3L274.5 506.8L275.2 501.8L276.1 495.6L277.0 489.4L277.6 483.1L277.8 476.9L278.4 471.9L279.2 470.9L280.1 470.7L280.9 466.9L281.9 462.0L282.8 459.5L283.4 460.1L284.2 464.5L285.0 470.7L286.3 478.2L287.5 485.6L288.4 490.0L289.4 491.2L290.3 491.9L290.9 496.8L291.6 501.2L292.9 501.8L294.1 504.3L295.4 505.5L296.9 506.2L298.1 509.3L300.0 512.4L301.9 514.9L303.7 516.8L305.6 517.4L307.5 519.2L309.3 520.2L311.8 520.7L313.7 520.2L315.5 521.1L317.4 522.4L319.3 522.0L322.0 521.1L323.6 522.2L327.1 523.9L330.5 525.0L334.0 525.5L336.9 526.6L345.0 527.8L355.8 529.4L369.2 529.4" stroke="#404040" stroke-width="0.9" fill="none" stroke-linejoin="round"/>
<rect x="380.5" y="455.5" width="124.3" height="74.0" fill="none" stroke="#4a4a4a" stroke-width="1"/>
<path d="M378.2 529.5H380.5M379.3 525.5H380.5M379.3 521.5H380.5M379.3 517.5H380.5M379.3 513.5H380.5M378.2 509.5H380.5M379.3 505.5H380.5M379.3 501.5H380.5M379.3 497.5H380.5M379.3 493.5H380.5M378.2 489.5H380.5M379.3 485.5H380.5M379.3 481.5H380.5M379.3 477.5H380.5M379.3 473.5H380.5M378.2 469.5H380.5M379.3 465.5H380.5M379.3 461.5H380.5M379.3 457.5H380.5" stroke="#3a3a3a" stroke-width="0.8" fill="none"/>
<path d="M380.5 529.5V531.5M389.9 529.5V530.5M395.3 529.5V530.5M399.2 529.5V530.5M402.2 529.5V530.5M404.7 529.5V530.5M406.8 529.5V530.5M408.6 529.5V530.5M410.2 529.5V530.5M411.6 529.5V531.5M420.9 529.5V530.5M426.4 529.5V530.5M430.3 529.5V530.5M433.3 529.5V530.5M435.8 529.5V530.5M437.8 529.5V530.5M439.6 529.5V530.5M441.2 529.5V530.5M442.6 529.5V531.5M452.0 529.5V530.5M457.5 529.5V530.5M461.4 529.5V530.5M464.4 529.5V530.5M466.8 529.5V530.5M468.9 529.5V530.5M470.7 529.5V530.5M472.3 529.5V530.5M473.7 529.5V531.5M483.1 529.5V530.5M488.6 529.5V530.5M492.4 529.5V530.5M495.4 529.5V530.5M497.9 529.5V530.5M500.0 529.5V530.5M501.8 529.5V530.5M503.4 529.5V530.5M504.8 529.5V531.5" stroke="#3a3a3a" stroke-width="0.6" fill="none"/>
<text x="377.0" y="539.9" font-family='"Liberation Sans", sans-serif' font-size="7.6" fill="#1c1c1c" stroke="#1c1c1c" stroke-width="0.2" textLength="5.6" lengthAdjust="spacingAndGlyphs">10</text>
<text x="382.4" y="536.7" font-family='"Liberation Sans", sans-serif' font-size="4.8" fill="#222" stroke="#222" stroke-width="0.15">0</text>
<text x="408.1" y="539.9" font-family='"Liberation Sans", sans-serif' font-size="7.6" fill="#1c1c1c" stroke="#1c1c1c" stroke-width="0.2" textLength="5.6" lengthAdjust="spacingAndGlyphs">10</text>
<text x="413.5" y="536.7" font-family='"Liberation Sans", sans-serif' font-size="4.8" fill="#222" stroke="#222" stroke-width="0.15">1</text>
<text x="439.1" y="539.9" font-family='"Liberation Sans", sans-serif' font-size="7.6" fill="#1c1c1c" stroke="#1c1c1c" stroke-width="0.2" textLength="5.6" lengthAdjust="spacingAndGlyphs">10</text>
<text x="444.5" y="536.7" font-family='"Liberation Sans", sans-serif' font-size="4.8" fill="#222" stroke="#222" stroke-width="0.15">2</text>
<text x="470.2" y="539.9" font-family='"Liberation Sans", sans-serif' font-size="7.6" fill="#1c1c1c" stroke="#1c1c1c" stroke-width="0.2" textLength="5.6" lengthAdjust="spacingAndGlyphs">10</text>
<text x="475.6" y="536.7" font-family='"Liberation Sans", sans-serif' font-size="4.8" fill="#222" stroke="#222" stroke-width="0.15">3</text>
<text x="501.3" y="539.9" font-family='"Liberation Sans", sans-serif' font-size="7.6" fill="#1c1c1c" stroke="#1c1c1c" stroke-width="0.2" textLength="5.6" lengthAdjust="spacingAndGlyphs">10</text>
<text x="506.7" y="536.7" font-family='"Liberation Sans", sans-serif' font-size="4.8" fill="#222" stroke="#222" stroke-width="0.15">4</text>
<path d="M380.5 529.4L437.8 529.4L439.0 526.2L440.0 515.8L440.9 498.5L441.8 477.7L442.6 462.1L443.5 456.9L444.7 456.1L456.8 456.1L458.0 458.7L458.7 470.8L459.4 482.9L460.5 489.8L461.7 491.9L462.9 490.7L464.3 487.7L465.5 488.1L466.7 493.3L468.1 501.9L469.5 509.7L470.7 514.0L471.9 515.8L472.9 514.0L474.0 505.4L475.0 489.8L475.9 480.3L476.6 478.6L477.2 483.7L478.1 498.5L479.3 514.0L480.7 522.7L482.3 526.2L483.7 524.4L485.0 521.3L486.1 521.0L487.1 522.7L488.5 527.0L490.2 529.4L504.8 529.4" stroke="#404040" stroke-width="0.9" fill="none" stroke-linejoin="round"/>
<rect x="104.5" y="543.8" width="121.1" height="75.7" fill="none" stroke="#4a4a4a" stroke-width="1"/>
<path d="M102.2 619.5H104.5M103.3 615.9H104.5M103.3 612.3H104.5M103.3 608.8H104.5M103.3 605.2H104.5M102.2 601.6H104.5M103.3 598.0H104.5M103.3 594.4H104.5M103.3 590.9H104.5M103.3 587.3H104.5M102.2 583.7H104.5M103.3 580.1H104.5M103.3 576.5H104.5M103.3 573.0H104.5M103.3 569.4H104.5M102.2 565.8H104.5M103.3 562.2H104.5M103.3 558.6H104.5M103.3 555.1H104.5M103.3 551.5H104.5M102.2 547.9H104.5M103.3 544.3H104.5" stroke="#3a3a3a" stroke-width="0.8" fill="none"/>
<path d="M104.5 619.5V621.5M113.6 619.5V620.5M118.9 619.5V620.5M122.7 619.5V620.5M125.7 619.5V620.5M128.1 619.5V620.5M130.1 619.5V620.5M131.8 619.5V620.5M133.4 619.5V620.5M134.8 619.5V621.5M143.9 619.5V620.5M149.2 619.5V620.5M153.0 619.5V620.5M155.9 619.5V620.5M158.3 619.5V620.5M160.4 619.5V620.5M162.1 619.5V620.5M163.7 619.5V620.5M165.1 619.5V621.5M174.2 619.5V620.5M179.5 619.5V620.5M183.3 619.5V620.5M186.2 619.5V620.5M188.6 619.5V620.5M190.6 619.5V620.5M192.4 619.5V620.5M193.9 619.5V620.5M195.3 619.5V621.5M204.4 619.5V620.5M209.8 619.5V620.5M213.6 619.5V620.5M216.5 619.5V620.5M218.9 619.5V620.5M220.9 619.5V620.5M222.7 619.5V620.5M224.2 619.5V620.5M225.6 619.5V621.5" stroke="#3a3a3a" stroke-width="0.6" fill="none"/>
<text x="101.0" y="629.9" font-family='"Liberation Sans", sans-serif' font-size="7.6" fill="#1c1c1c" stroke="#1c1c1c" stroke-width="0.2" textLength="5.6" lengthAdjust="spacingAndGlyphs">10</text>
<text x="106.4" y="626.7" font-family='"Liberation Sans", sans-serif' font-size="4.8" fill="#222" stroke="#222" stroke-width="0.15">0</text>
<text x="131.3" y="629.9" font-family='"Liberation Sans", sans-serif' font-size="7.6" fill="#1c1c1c" stroke="#1c1c1c" stroke-width="0.2" textLength="5.6" lengthAdjust="spacingAndGlyphs">10</text>
<text x="136.7" y="626.7" font-family='"Liberation Sans", sans-serif' font-size="4.8" fill="#222" stroke="#222" stroke-width="0.15">1</text>
<text x="161.6" y="629.9" font-family='"Liberation Sans", sans-serif' font-size="7.6" fill="#1c1c1c" stroke="#1c1c1c" stroke-width="0.2" textLength="5.6" lengthAdjust="spacingAndGlyphs">10</text>
<text x="167.0" y="626.7" font-family='"Liberation Sans", sans-serif' font-size="4.8" fill="#222" stroke="#222" stroke-width="0.15">2</text>
<text x="191.8" y="629.9" font-family='"Liberation Sans", sans-serif' font-size="7.6" fill="#1c1c1c" stroke="#1c1c1c" stroke-width="0.2" textLength="5.6" lengthAdjust="spacingAndGlyphs">10</text>
<text x="197.2" y="626.7" font-family='"Liberation Sans", sans-serif' font-size="4.8" fill="#222" stroke="#222" stroke-width="0.15">3</text>
<text x="222.1" y="629.9" font-family='"Liberation Sans", sans-serif' font-size="7.6" fill="#1c1c1c" stroke="#1c1c1c" stroke-width="0.2" textLength="5.6" lengthAdjust="spacingAndGlyphs">10</text>
<text x="227.5" y="626.7" font-family='"Liberation Sans", sans-serif' font-size="4.8" fill="#222" stroke="#222" stroke-width="0.15">4</text>
<path d="M104.5 619.4L175.4 619.4L176.6 614.7L177.9 606.6L179.2 599.2L180.3 597.1L181.4 600.0L182.8 608.2L183.9 611.5L185.2 609.8L186.8 605.8L189.3 602.5L191.7 600.0L192.9 593.5L193.9 580.4L195.0 564.1L195.8 556.0L196.8 555.1L197.8 558.4L198.8 552.7L199.6 546.2L200.4 544.2L201.2 547.0L202.3 557.6L203.7 567.4L205.1 572.3L206.4 569.0L207.6 566.6L208.6 569.0L209.7 580.4L210.8 593.5L211.8 602.5L212.8 604.9L213.8 601.7L215.1 595.1L216.4 592.7L217.7 595.1L219.0 603.3L220.6 611.5L222.3 617.2L223.6 619.4L225.5 619.4" stroke="#404040" stroke-width="0.9" fill="none" stroke-linejoin="round"/>
<rect x="244.7" y="541.5" width="123.3" height="77.5" fill="none" stroke="#4a4a4a" stroke-width="1"/>
<path d="M242.4 619.0H244.7M243.5 615.4H244.7M243.5 611.8H244.7M243.5 608.3H244.7M243.5 604.7H244.7M242.4 601.1H244.7M243.5 597.5H244.7M243.5 593.9H244.7M243.5 590.4H244.7M243.5 586.8H244.7M242.4 583.2H244.7M243.5 579.6H244.7M243.5 576.0H244.7M243.5 572.5H244.7M243.5 568.9H244.7M242.4 565.3H244.7M243.5 561.7H244.7M243.5 558.1H244.7M243.5 554.6H244.7M243.5 551.0H244.7M242.4 547.4H244.7M243.5 543.8H244.7" stroke="#3a3a3a" stroke-width="0.8" fill="none"/>
<path d="M244.7 619.0V621.0M254.0 619.0V620.0M259.4 619.0V620.0M263.3 619.0V620.0M266.2 619.0V620.0M268.7 619.0V620.0M270.8 619.0V620.0M272.5 619.0V620.0M274.1 619.0V620.0M275.5 619.0V621.0M284.8 619.0V620.0M290.2 619.0V620.0M294.1 619.0V620.0M297.1 619.0V620.0M299.5 619.0V620.0M301.6 619.0V620.0M303.4 619.0V620.0M304.9 619.0V620.0M306.4 619.0V621.0M315.6 619.0V620.0M321.1 619.0V620.0M324.9 619.0V620.0M327.9 619.0V620.0M330.3 619.0V620.0M332.4 619.0V620.0M334.2 619.0V620.0M335.8 619.0V620.0M337.2 619.0V621.0M346.5 619.0V620.0M351.9 619.0V620.0M355.7 619.0V620.0M358.7 619.0V620.0M361.2 619.0V620.0M363.2 619.0V620.0M365.0 619.0V620.0M366.6 619.0V620.0M368.0 619.0V621.0" stroke="#3a3a3a" stroke-width="0.6" fill="none"/>
<text x="241.2" y="629.4" font-family='"Liberation Sans", sans-serif' font-size="7.6" fill="#1c1c1c" stroke="#1c1c1c" stroke-width="0.2" textLength="5.6" lengthAdjust="spacingAndGlyphs">10</text>
<text x="246.6" y="626.2" font-family='"Liberation Sans", sans-serif' font-size="4.8" fill="#222" stroke="#222" stroke-width="0.15">0</text>
<text x="272.0" y="629.4" font-family='"Liberation Sans", sans-serif' font-size="7.6" fill="#1c1c1c" stroke="#1c1c1c" stroke-width="0.2" textLength="5.6" lengthAdjust="spacingAndGlyphs">10</text>
<text x="277.4" y="626.2" font-family='"Liberation Sans", sans-serif' font-size="4.8" fill="#222" stroke="#222" stroke-width="0.15">1</text>
<text x="302.9" y="629.4" font-family='"Liberation Sans", sans-serif' font-size="7.6" fill="#1c1c1c" stroke="#1c1c1c" stroke-width="0.2" textLength="5.6" lengthAdjust="spacingAndGlyphs">10</text>
<text x="308.2" y="626.2" font-family='"Liberation Sans", sans-serif' font-size="4.8" fill="#222" stroke="#222" stroke-width="0.15">2</text>
<text x="333.7" y="629.4" font-family='"Liberation Sans", sans-serif' font-size="7.6" fill="#1c1c1c" stroke="#1c1c1c" stroke-width="0.2" textLength="5.6" lengthAdjust="spacingAndGlyphs">10</text>
<text x="339.1" y="626.2" font-family='"Liberation Sans", sans-serif' font-size="4.8" fill="#222" stroke="#222" stroke-width="0.15">3</text>
<text x="364.5" y="629.4" font-family='"Liberation Sans", sans-serif' font-size="7.6" fill="#1c1c1c" stroke="#1c1c1c" stroke-width="0.2" textLength="5.6" lengthAdjust="spacingAndGlyphs">10</text>
<text x="369.9" y="626.2" font-family='"Liberation Sans", sans-serif' font-size="4.8" fill="#222" stroke="#222" stroke-width="0.15">4</text>
<path d="M244.7 618.9L260.2 618.9L261.7 618.9L264.8 615.9L267.1 612.8L268.0 612.2L269.9 607.9L271.7 594.8L273.6 581.1L275.5 567.4L277.0 554.9L278.0 547.5L278.6 545.6L279.2 551.2L279.5 553.4L280.2 549.3L281.1 551.8L281.9 556.2L282.6 558.4L283.3 554.3L283.9 558.7L284.8 566.8L285.4 568.6L286.2 566.4L286.9 570.5L288.5 576.7L290.2 579.2L291.7 584.2L293.5 586.3L295.4 587.9L296.6 588.8L297.9 586.7L298.9 592.3L300.1 594.8L301.4 597.3L302.6 600.8L304.4 599.8L306.0 598.3L307.2 601.0L309.1 604.1L311.0 606.6L312.8 607.9L315.1 605.4L316.6 607.2L319.1 609.7L321.5 611.6L324.0 612.9L328.0 614.3L331.9 614.4L334.9 614.9L338.0 615.9L341.0 616.9L344.2 617.7L350.3 618.9L368.0 618.9" stroke="#404040" stroke-width="0.9" fill="none" stroke-linejoin="round"/>
<rect x="381.5" y="541.5" width="122.7" height="77.5" fill="none" stroke="#4a4a4a" stroke-width="1"/>
<path d="M379.2 619.0H381.5M380.3 615.4H381.5M380.3 611.8H381.5M380.3 608.3H381.5M380.3 604.7H381.5M379.2 601.1H381.5M380.3 597.5H381.5M380.3 593.9H381.5M380.3 590.4H381.5M380.3 586.8H381.5M379.2 583.2H381.5M380.3 579.6H381.5M380.3 576.0H381.5M380.3 572.5H381.5M380.3 568.9H381.5M379.2 565.3H381.5M380.3 561.7H381.5M380.3 558.1H381.5M380.3 554.6H381.5M380.3 551.0H381.5M379.2 547.4H381.5M380.3 543.8H381.5" stroke="#3a3a3a" stroke-width="0.8" fill="none"/>
<path d="M381.5 619.0V621.0M390.7 619.0V620.0M396.1 619.0V620.0M400.0 619.0V620.0M402.9 619.0V620.0M405.4 619.0V620.0M407.4 619.0V620.0M409.2 619.0V620.0M410.8 619.0V620.0M412.2 619.0V621.0M421.4 619.0V620.0M426.8 619.0V620.0M430.6 619.0V620.0M433.6 619.0V620.0M436.0 619.0V620.0M438.1 619.0V620.0M439.9 619.0V620.0M441.4 619.0V620.0M442.9 619.0V621.0M452.1 619.0V620.0M457.5 619.0V620.0M461.3 619.0V620.0M464.3 619.0V620.0M466.7 619.0V620.0M468.8 619.0V620.0M470.6 619.0V620.0M472.1 619.0V620.0M473.5 619.0V621.0M482.8 619.0V620.0M488.2 619.0V620.0M492.0 619.0V620.0M495.0 619.0V620.0M497.4 619.0V620.0M499.4 619.0V620.0M501.2 619.0V620.0M502.8 619.0V620.0M504.2 619.0V621.0" stroke="#3a3a3a" stroke-width="0.6" fill="none"/>
<text x="378.0" y="629.4" font-family='"Liberation Sans", sans-serif' font-size="7.6" fill="#1c1c1c" stroke="#1c1c1c" stroke-width="0.2" textLength="5.6" lengthAdjust="spacingAndGlyphs">10</text>
<text x="383.4" y="626.2" font-family='"Liberation Sans", sans-serif' font-size="4.8" fill="#222" stroke="#222" stroke-width="0.15">0</text>
<text x="408.7" y="629.4" font-family='"Liberation Sans", sans-serif' font-size="7.6" fill="#1c1c1c" stroke="#1c1c1c" stroke-width="0.2" textLength="5.6" lengthAdjust="spacingAndGlyphs">10</text>
<text x="414.1" y="626.2" font-family='"Liberation Sans", sans-serif' font-size="4.8" fill="#222" stroke="#222" stroke-width="0.15">1</text>
<text x="439.4" y="629.4" font-family='"Liberation Sans", sans-serif' font-size="7.6" fill="#1c1c1c" stroke="#1c1c1c" stroke-width="0.2" textLength="5.6" lengthAdjust="spacingAndGlyphs">10</text>
<text x="444.8" y="626.2" font-family='"Liberation Sans", sans-serif' font-size="4.8" fill="#222" stroke="#222" stroke-width="0.15">2</text>
<text x="470.0" y="629.4" font-family='"Liberation Sans", sans-serif' font-size="7.6" fill="#1c1c1c" stroke="#1c1c1c" stroke-width="0.2" textLength="5.6" lengthAdjust="spacingAndGlyphs">10</text>
<text x="475.4" y="626.2" font-family='"Liberation Sans", sans-serif' font-size="4.8" fill="#222" stroke="#222" stroke-width="0.15">3</text>
<text x="500.7" y="629.4" font-family='"Liberation Sans", sans-serif' font-size="7.6" fill="#1c1c1c" stroke="#1c1c1c" stroke-width="0.2" textLength="5.6" lengthAdjust="spacingAndGlyphs">10</text>
<text x="506.1" y="626.2" font-family='"Liberation Sans", sans-serif' font-size="4.8" fill="#222" stroke="#222" stroke-width="0.15">4</text>
<path d="M381.5 618.9L396.7 618.9L400.0 617.2L402.5 615.3L405.0 611.0L406.8 603.5L408.5 593.5L410.0 581.1L411.8 568.6L413.4 559.9L414.7 551.8L415.6 547.7L416.2 549.7L417.1 547.2L417.7 545.6L418.7 547.7L419.4 548.7L420.2 553.7L420.9 558.7L421.8 556.8L422.7 561.2L423.9 564.9L424.9 565.5L426.2 561.8L427.0 560.5L427.6 563.7L428.6 568.0L429.6 570.5L430.9 569.9L431.9 566.8L432.8 569.3L433.6 573.6L434.5 571.1L435.2 569.3L436.4 571.8L437.6 574.9L439.2 578.0L440.1 581.1L440.8 585.5L442.0 586.7L443.0 585.8L443.8 587.9L444.8 585.5L445.8 587.9L446.7 589.2L447.6 587.9L448.6 591.1L449.4 589.8L450.3 588.3L451.3 591.1L452.2 594.0L453.2 593.4L454.4 596.5L455.5 599.5L456.9 598.0L458.3 597.1L459.2 598.6L460.1 604.0L461.0 605.0L462.1 603.6L463.3 605.6L465.0 608.4L466.7 610.5L468.2 609.6L469.4 608.7L470.8 610.2L473.1 611.9L475.4 613.6L477.1 614.2L478.8 613.3L480.2 613.6L481.7 615.9L483.4 616.7L486.9 617.3L490.4 617.4L493.8 618.9L498.4 618.9L504.3 618.9" stroke="#404040" stroke-width="0.9" fill="none" stroke-linejoin="round"/>
<text x="111" y="642.5" font-family='"Liberation Serif", serif' font-size="11.5" font-weight="bold" font-style="normal" text-anchor="start" fill="#000" textLength="29" lengthAdjust="spacingAndGlyphs" >CFSE</text>
<rect x="152.5" y="635.8" width="40" height="2.9" fill="#000"/>
<path d="M192 632.5L202 637.2L192 641.8Z" fill="#fff" stroke="#000" stroke-width="1.8" stroke-linejoin="miter"/>
</svg>
</body></html>
